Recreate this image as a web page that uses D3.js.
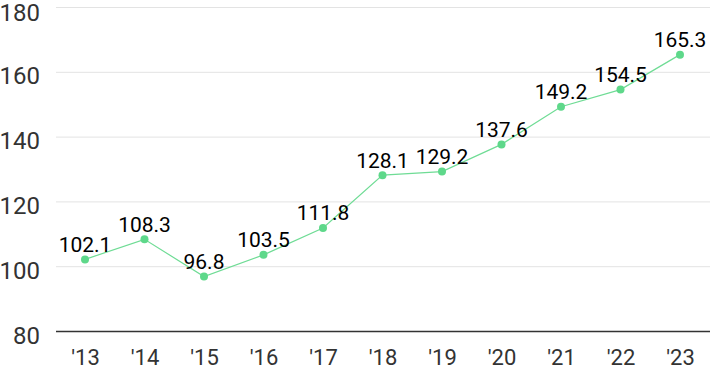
<!DOCTYPE html>
<html>
<head>
<meta charset="utf-8">
<script src="https://cdn.jsdelivr.net/npm/d3@7"></script>
<style>
body { margin: 0; background: #fff; }
text { font-family: Roboto, "Noto Sans", sans-serif; }
</style>
</head>
<body>
<script>
var years = ["'13", "'14", "'15", "'16", "'17", "'18", "'19", "'20", "'21", "'22", "'23"];
var values = [102.1, 108.3, 96.8, 103.5, 111.8, 128.1, 129.2, 137.6, 149.2, 154.5, 165.3];
var yTicks = [80, 100, 120, 140, 160, 180];

var width = 710, height = 371;

var svg = d3.select("body").append("svg")
    .attr("width", width)
    .attr("height", height);

// escalas
var xScale = d3.scalePoint().domain(years).range([85, 680]);
var yScale = d3.scaleLinear().domain([80, 180]).range([331, 7]);

// grade
svg.selectAll("line.grid")
    .data(yTicks.slice(1))
    .enter()
    .append("line")
    .attr("class", "grid")
    .attr("x1", 56).attr("x2", width)
    .attr("y1", function(d){ return yScale(d) + 0.5; })
    .attr("y2", function(d){ return yScale(d) + 0.5; })
    .attr("stroke", "#e3e3e3")
    .attr("stroke-width", 1);

// linha base
svg.append("line")
    .attr("x1", 56).attr("x2", width)
    .attr("y1", yScale(80) + 0.5).attr("y2", yScale(80) + 0.5)
    .attr("stroke", "#333")
    .attr("stroke-width", 1.5);

// eixo y
var yAxis = d3.axisLeft(yScale).tickValues(yTicks).tickSize(0).tickPadding(0);
var yAxisGroup = svg.append("g")
    .attr("transform", "translate(40,0)")
    .call(yAxis);
yAxisGroup.select(".domain").remove();
yAxisGroup.selectAll("text")
    .attr("fill", "#333")
    .attr("font-size", "24px")
    .attr("dy", function(d){ return d == 180 ? "0.55em" : "0.5em"; });

// eixo x
var xAxis = d3.axisBottom(xScale).tickSize(0).tickPadding(0);
var xAxisGroup = svg.append("g")
    .attr("transform", "translate(0,350)")
    .call(xAxis);
xAxisGroup.select(".domain").remove();
xAxisGroup.selectAll("text")
    .attr("fill", "#333")
    .attr("font-size", "22px")
    .attr("y", 15)
    .attr("dy", "0");

// linha
var line = d3.line()
    .x(function(d, i){ return xScale(years[i]); })
    .y(function(d){ return yScale(d); });

svg.append("path")
    .datum(values)
    .attr("d", line)
    .attr("fill", "none")
    .attr("stroke", "#6fdc95")
    .attr("stroke-width", 1.2);

svg.selectAll("circle")
    .data(values)
    .enter()
    .append("circle")
    .attr("r", 4)
    .attr("cx", function(d, i){ return xScale(years[i]); })
    .attr("cy", function(d){ return yScale(d); })
    .attr("fill", "#5ed88a");

svg.selectAll("text.label")
    .data(values)
    .enter()
    .append("text")
    .attr("class", "label")
    .attr("x", function(d, i){ return xScale(years[i]); })
    .attr("y", function(d){ return yScale(d) - 7.5; })
    .attr("text-anchor", "middle")
    .attr("font-size", "21px")
    .attr("fill", "#000")
    .text(function(d){ return d.toFixed(1); });
</script>
</body>
</html>
